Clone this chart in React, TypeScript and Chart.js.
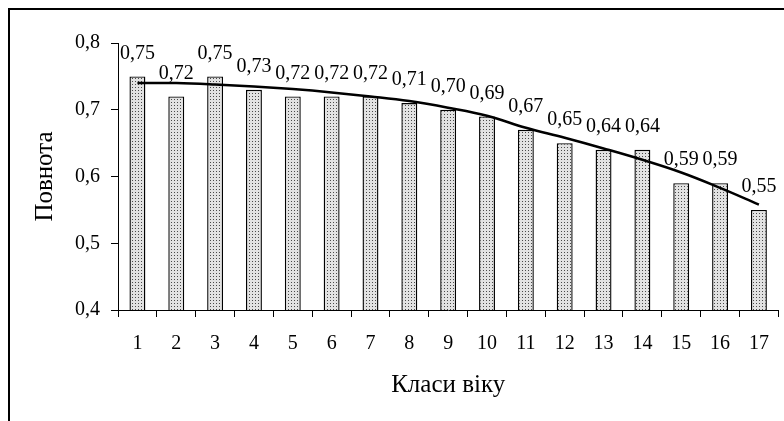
import React, { useEffect, useRef } from 'react';
import { Chart, registerables } from 'chart.js';

Chart.register(...registerables);

const categories = ['1', '2', '3', '4', '5', '6', '7', '8', '9', '10', '11', '12', '13', '14', '15', '16', '17'];
const fullness = [0.75, 0.72, 0.75, 0.73, 0.72, 0.72, 0.72, 0.71, 0.70, 0.69, 0.67, 0.65, 0.64, 0.64, 0.59, 0.59, 0.55];
const trend = [0.740, 0.740, 0.738, 0.735, 0.731, 0.726, 0.720, 0.713, 0.703, 0.691, 0.673, 0.658, 0.642, 0.625, 0.606, 0.583, 0.558];
const yTicks = [0.4, 0.5, 0.6, 0.7, 0.8];
const xTitle = 'Класи віку';
const yTitle = 'Повнота';

const FONT = '"Liberation Serif", "Times New Roman", serif';

const fmt = (v: number, d: number) => v.toFixed(d).replace('.', ',');

function makePattern(): CanvasPattern | string {
  const c = document.createElement('canvas');
  c.width = 3;
  c.height = 3;
  const g = c.getContext('2d');
  if (!g) return '#c8c8c8';
  g.fillStyle = '#e2e2e2';
  g.fillRect(0, 0, 3, 3);
  g.fillStyle = '#4a4a4a';
  g.fillRect(1, 1, 1, 1);
  const p = g.createPattern(c, 'repeat');
  return p || '#c8c8c8';
}

const framePlugin = {
  id: 'frame',
  beforeDraw(chart: any) {
    const { ctx, width, height } = chart;
    ctx.save();
    ctx.fillStyle = '#ffffff';
    ctx.fillRect(0, 0, width, height);
    ctx.fillStyle = '#000000';
    ctx.fillRect(0, 0, width, 2);
    ctx.fillRect(0, 0, 2, height);
    ctx.restore();
  },
};

const labelPlugin = {
  id: 'barLabels',
  afterDatasetsDraw(chart: any) {
    const { ctx } = chart;
    const meta = chart.getDatasetMeta(0);
    ctx.save();
    ctx.font = `20px ${FONT}`;
    ctx.fillStyle = '#000';
    ctx.textAlign = 'center';
    ctx.textBaseline = 'middle';
    meta.data.forEach((el: any, i: number) => {
      ctx.fillText(fmt(fullness[i], 2), el.x, el.y - 23);
    });
    ctx.restore();
  },
};

export default function App() {
  const ref = useRef<HTMLCanvasElement>(null);

  useEffect(() => {
    if (!ref.current) return;
    const chart = new Chart(ref.current, {
      type: 'bar',
      data: {
        labels: categories,
        datasets: [
          {
            type: 'bar',
            data: fullness,
            backgroundColor: makePattern() as any,
            borderColor: '#000',
            borderWidth: 1.4,
            borderSkipped: false,
            barPercentage: 0.41,
            categoryPercentage: 1,
            order: 1,
          },
          {
            type: 'line',
            data: trend,
            borderColor: '#000',
            borderWidth: 2.5,
            pointRadius: 0,
            tension: 0.4,
            fill: false,
            order: 0,
          } as any,
        ],
      },
      options: {
        responsive: false,
        animation: false,
        devicePixelRatio: 1,
        layout: { padding: { left: 0, top: 35, right: 3, bottom: 0 } },
        plugins: {
          legend: { display: false },
          tooltip: { enabled: false },
        },
        scales: {
          x: {
            type: 'category',
            offset: true,
            grid: {
              offset: true,
              drawOnChartArea: false,
              drawTicks: true,
              tickLength: 7,
              color: '#000',
              lineWidth: 1,
            },
            border: { display: true, color: '#000', width: 1 },
            ticks: {
              color: '#000',
              font: { family: FONT, size: 20 },
              padding: 15,
              maxRotation: 0,
              autoSkip: false,
            },
            title: {
              display: true,
              text: xTitle,
              color: '#000',
              font: { family: FONT, size: 25 },
              padding: { top: 0, bottom: 21 },
            },
            afterFit: (s: any) => {
              s.height = 111;
            },
          },
          y: {
            min: 0.4,
            max: 0.8,
            afterBuildTicks: (s: any) => {
              s.ticks = yTicks.map((v) => ({ value: v }));
            },
            grid: {
              drawOnChartArea: false,
              drawTicks: true,
              tickLength: 7,
              color: '#000',
              lineWidth: 1,
            },
            border: { display: true, color: '#000', width: 1 },
            ticks: {
              color: '#000',
              font: { family: FONT, size: 20 },
              padding: 11,
              callback: (v: any) => fmt(Number(v), 1),
            },
            title: {
              display: true,
              text: yTitle,
              color: '#000',
              font: { family: FONT, size: 25 },
              padding: { top: 22, bottom: 0 },
            },
            afterFit: (s: any) => {
              s.width = 110;
            },
          },
        },
      },
      plugins: [framePlugin, labelPlugin],
    });
    return () => chart.destroy();
  }, []);

  return (
    <canvas
      ref={ref}
      width={776}
      height={413}
      style={{ position: 'absolute', left: 8, top: 8, width: 776, height: 413 }}
    />
  );
}
